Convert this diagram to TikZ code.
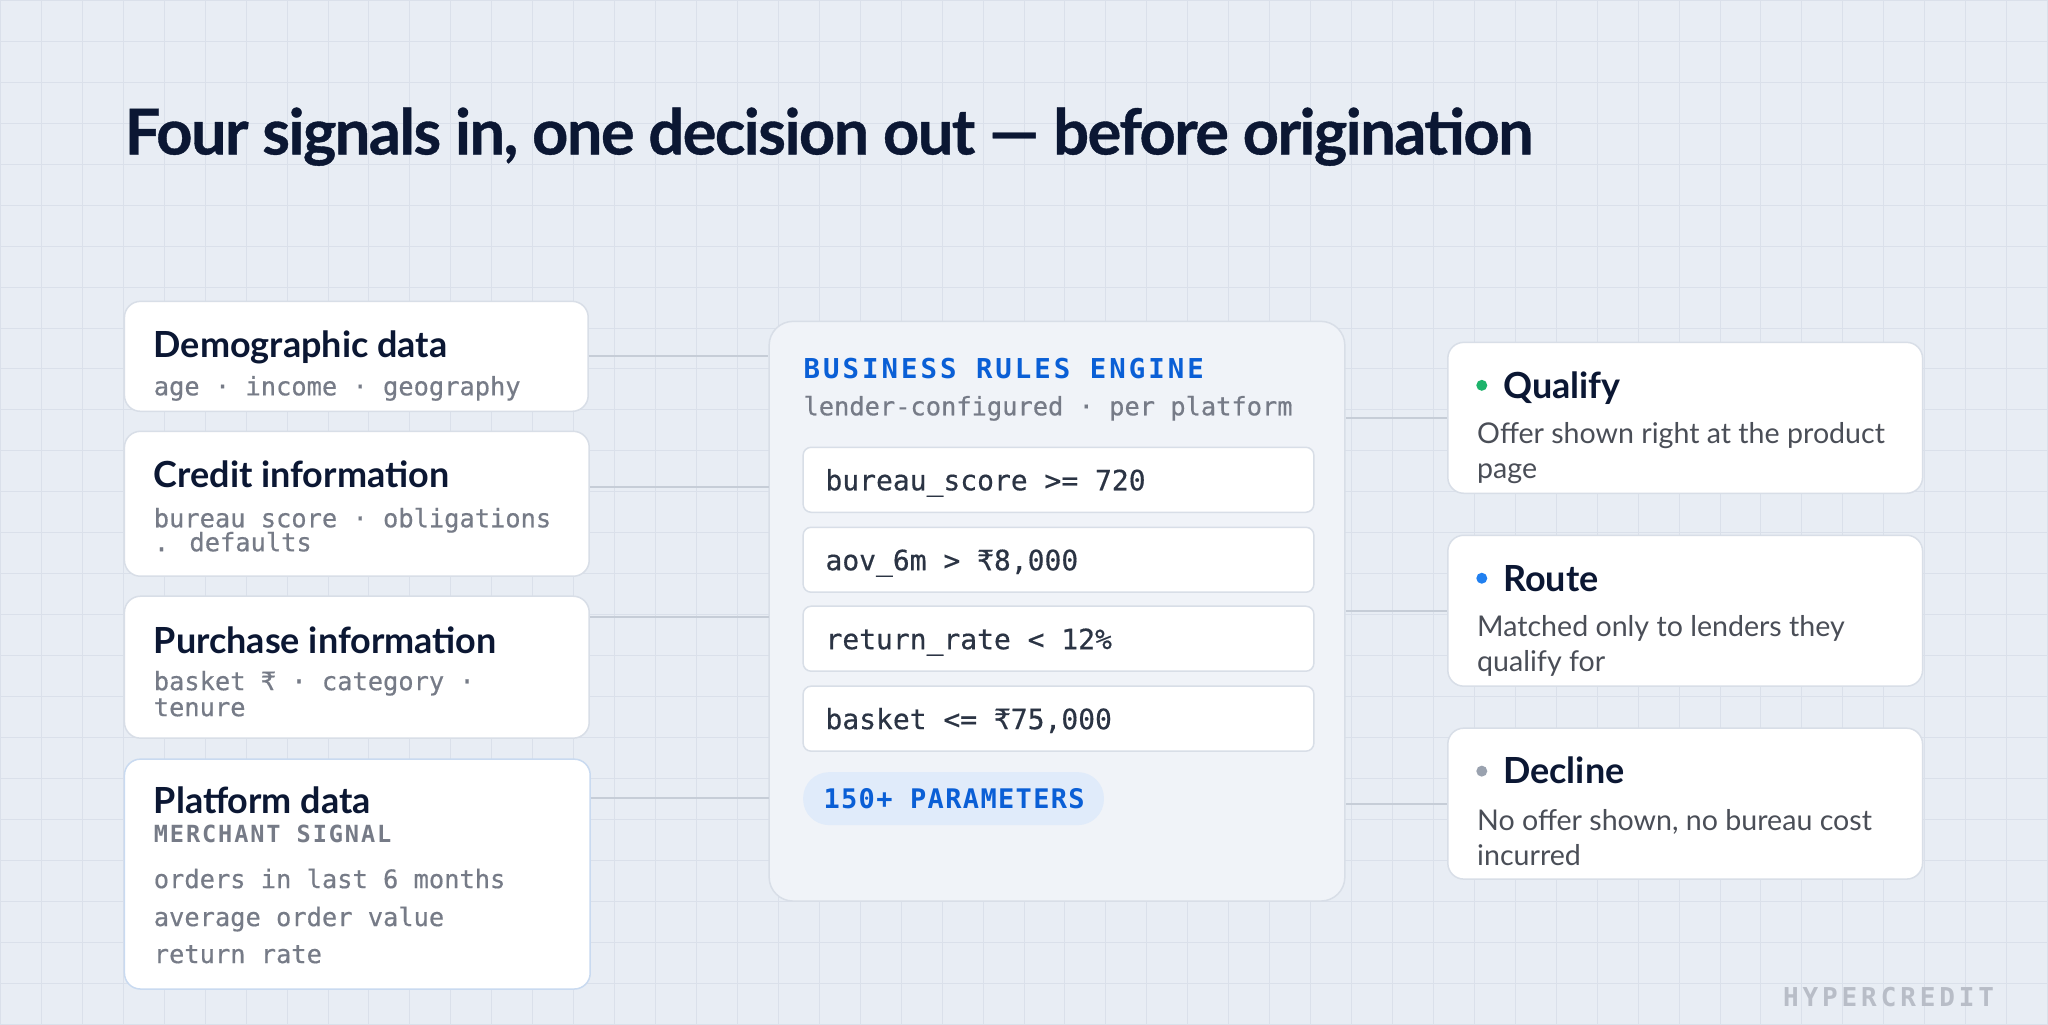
\documentclass[tikz,border=0pt]{standalone}
\usepackage{fontspec}
\setmainfont{Lato}
\setmonofont{DejaVu Sans Mono}
\newfontfamily\titlefont{Lato}[LetterSpace=-2.5,BoldFeatures={FakeBold=0.6}]
\newfontfamily\medmono{DejaVu Sans Mono}[FakeBold=0.5]
\usetikzlibrary{fit,calc}

\definecolor{pagebg}{HTML}{E8EDF4}
\definecolor{gridcol}{HTML}{DAE0EA}
\definecolor{ink}{HTML}{0B1733}
\definecolor{muted}{HTML}{767B87}
\definecolor{bodytext}{HTML}{4A4E57}
\definecolor{cardline}{HTML}{D8DEE7}
\definecolor{platline}{HTML}{C9DAF0}
\definecolor{panelbg}{HTML}{F0F3F8}
\definecolor{ruleink}{HTML}{2B3444}
\definecolor{engblue}{HTML}{0A5FD6}
\definecolor{pillbg}{HTML}{E0EBFA}
\definecolor{linkcol}{HTML}{C6CDD7}
\definecolor{okgreen}{HTML}{1DB36B}
\definecolor{routeblue}{HTML}{2180F0}
\definecolor{declgray}{HTML}{9AA2AF}
\definecolor{brandgray}{HTML}{B8BDC7}

\begin{document}
\begin{tikzpicture}[x=0.5pt,y=-0.5pt]
            \tikzset{
                sig card/.style={draw=cardline,fill=white,rounded corners=8pt,line width=0.75pt,inner sep=0},
                out card/.style={sig card},
                rule box/.style={draw=cardline,fill=white,rounded corners=4pt,line width=0.75pt,inner sep=0},
                txt/.style={anchor=base west,inner sep=0},
                card title/.style={txt,text=ink,font=\bfseries\fontsize{18}{20}\selectfont},
                card sub/.style={txt,text=muted,font=\medmono\fontsize{12.7}{14}\selectfont},
                out text/.style={txt,text=bodytext,font=\fontsize{14.3}{16}\selectfont},
                rule text/.style={txt,text=ruleink,font=\medmono\fontsize{14}{16}\selectfont},
                state dot/.style={circle,minimum size=5.5pt,inner sep=0},
                link/.style={draw=linkcol,line width=1pt}
            }
            % backdrop and grid
            \fill[pagebg] (0,0) rectangle (2048,1024);
            \foreach \i in {0,...,50}
                \draw[gridcol,line width=0.5pt] (\i*40.96,0) -- (\i*40.96,1024);
            \foreach \j in {0,...,25}
                \draw[gridcol,line width=0.5pt] (0,\j*40.96) -- (2048,\j*40.96);
            \useasboundingbox (0,0) rectangle (2048,1024);

            \node[txt,text=ink,font=\titlefont\bfseries\fontsize{31.6}{36}\selectfont] (title) at (124,154)
                {Four signals in, one decision out — before origination};

            % input signals
            \node[sig card,fit={(124,301) (588,411)}] (demo) {};
            \node[sig card,fit={(124,431) (589,576)}] (credit) {};
            \node[sig card,fit={(124,596) (589,738)}] (purchase) {};
            \node[sig card,draw=platline,fit={(124,759) (590,989)}] (platform) {};

            \node[card title] (demo-t) at (153,357) {Demographic data};
            \node[card sub] (demo-s) at (153,395) {age · income · geography};
            \node[card title] (credit-t) at (153,487) {Credit information};
            \node[card sub] (credit-s1) at (153,527) {bureau score · obligations};
            \node[card sub] (credit-s2) at (153,551) {. defaults};
            \node[card title] (purchase-t) at (153,653) {Purchase information};
            \node[card sub] (purchase-s1) at (153,690) {basket ₹ · category ·};
            \node[card sub] (purchase-s2) at (153,716) {tenure};
            \node[card title] (platform-t) at (153,813) {Platform data};
            \node[card sub,font=\ttfamily\bfseries\fontsize{11.8}{14}\selectfont\addfontfeature{LetterSpace=8}] (platform-k) at (153,842) {MERCHANT SIGNAL};
            \node[card sub] (platform-s1) at (153,888) {orders in last 6 months};
            \node[card sub] (platform-s2) at (153,926) {average order value};
            \node[card sub] (platform-s3) at (153,963) {return rate};

            % rules engine
            \node[draw=cardline,fill=panelbg,rounded corners=12pt,line width=0.75pt,inner sep=0,fit={(769,321) (1345,901)}] (engine) {};
            \node[txt,text=engblue,font=\ttfamily\bfseries\fontsize{13.7}{16}\selectfont\addfontfeature{LetterSpace=11}] (engine-t) at (803,378) {BUSINESS RULES ENGINE};
            \node[card sub] (engine-s) at (803,415) {lender-configured · per platform};
            \node[rule box,fit={(803,447) (1314,512)}] (r1) {};
            \node[rule box,fit={(803,527) (1314,592)}] (r2) {};
            \node[rule box,fit={(803,606) (1314,671)}] (r3) {};
            \node[rule box,fit={(803,686) (1314,751)}] (r4) {};
            \node[rule text] (r1-t) at (825,490) {bureau\_score >= 720};
            \node[rule text] (r2-t) at (825,570) {aov\_6m > ₹8,000};
            \node[rule text] (r3-t) at (825,649) {return\_rate < 12\%};
            \node[rule text] (r4-t) at (825,729) {basket <= ₹75,000};
            \node[fill=pillbg,rounded corners=13pt,inner sep=0,fit={(803,772) (1104,825)}] (pill) {};
            \node[txt,text=engblue,font=\ttfamily\bfseries\fontsize{13.5}{16}\selectfont\addfontfeature{LetterSpace=5}] (pill-t) at (823,808) {150+ PARAMETERS};

            % outcomes
            \node[out card,fit={(1448,342) (1923,493)}] (qualify) {};
            \node[out card,fit={(1448,535) (1923,686)}] (route) {};
            \node[out card,fit={(1448,728) (1923,879)}] (decline) {};
            \node[state dot,fill=okgreen] (qualify-d) at (1482,385) {};
            \node[state dot,fill=routeblue] (route-d) at (1482,578) {};
            \node[state dot,fill=declgray] (decline-d) at (1482,771) {};
            \node[card title] (qualify-t) at (1503,398) {Qualify};
            \node[out text] (qualify-s1) at (1477,443) {Offer shown right at the product};
            \node[out text] (qualify-s2) at (1477,478) {page};
            \node[card title] (route-t) at (1503,591) {Route};
            \node[out text] (route-s1) at (1477,636) {Matched only to lenders they};
            \node[out text] (route-s2) at (1477,671) {qualify for};
            \node[card title] (decline-t) at (1503,783) {Decline};
            \node[out text] (decline-s1) at (1477,830) {No offer shown, no bureau cost};
            \node[out text] (decline-s2) at (1477,865) {incurred};

            \coordinate (in1) at (engine.west |- demo.east);
            \coordinate (in2) at (769,487);
            \coordinate (in3) at (769,617);
            \coordinate (in4) at (769,798);
            \path[link]
                (demo.east) edge (in1)
                (credit.east |- in2) edge (in2)
                (purchase.east |- in3) edge (in3)
                (platform.east |- in4) edge (in4)
                (engine.east |- qualify.west) edge (qualify.west)
                (engine.east |- route.west) edge (route.west)
                (engine.east |- decline.west) edge (decline.west)
                ;

            \node[txt,text=brandgray,font=\ttfamily\bfseries\fontsize{13}{16}\selectfont\addfontfeature{LetterSpace=15}] (brand) at (1783,1006) {HYPERCREDIT};
        \end{tikzpicture}
\end{document}
